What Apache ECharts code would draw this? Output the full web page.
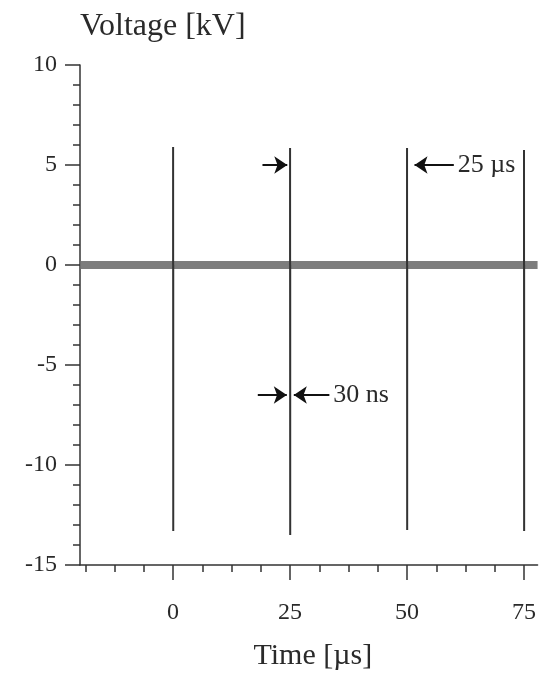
<!DOCTYPE html>
<html><head><meta charset="utf-8">
<script src="https://cdn.jsdelivr.net/npm/echarts@6/dist/echarts.min.js"></script>
<style>html,body{margin:0;padding:0;background:#fff}#c{width:539px;height:676px}</style>
</head><body><div id="c"></div>
<script>
// ---- data ----
const pulseTimes = [0, 25, 50, 75];            // µs
const pulsePeaks = [5.9, 5.85, 5.85, 5.75];    // kV
const pulseTroughs = [-13.3, -13.5, -13.25, -13.3]; // kV
const pulseWidth = 0.03;                        // 30 ns in µs
const baselineX = [-19.9, 77.9];
const baselineY = [0, 0];
const xMajorTicks = [0, 25, 50, 75];
const xMinorTicks = [-18.75, -12.5, -6.25, 6.25, 12.5, 18.75, 31.25, 37.5, 43.75, 56.25, 62.5, 68.75];
const yTicks = [-15, -10, -5, 0, 5, 10];
// annotation arrows: [fromX, toX, y, text]
const arrowFromX = [19.1, 60.0, 18.1, 33.4];
const arrowToX   = [24.4, 51.6, 24.3, 25.8];
const arrowY     = [5.0, 5.0, -6.5, -6.5];
const arrowText  = ['', '25 µs', '', '30 ns'];

const FONT = 'Liberation Serif';
const INK = '#2a2a2a';

const series = [];
series.push({
  type: 'line', data: baselineX.map((x, i) => [x, baselineY[i]]),
  symbol: 'none', lineStyle: { color: '#6f6f6f', width: 8, opacity: 0.9 }, z: 2, silent: true
});
pulseTimes.forEach((t, i) => {
  series.push({
    type: 'line',
    data: [[t, 0], [t, pulsePeaks[i]], [t + pulseWidth, pulseTroughs[i]], [t + pulseWidth, 0]],
    symbol: 'none', lineStyle: { color: '#333', width: 2 }, z: 3, silent: true
  });
});
series.push({
  type: 'line', data: [], z: 4, silent: true,
  markLine: {
    silent: true, symbol: ['none', 'arrow'], symbolSize: 13,
    lineStyle: { color: '#111', width: 2, type: 'solid' },
    label: { show: true, position: 'start', distance: 4, fontFamily: FONT, fontSize: 26, color: INK,
      formatter: p => p.data && p.data.txt ? p.data.txt : '' },
    data: arrowFromX.map((x, i) => [
      { coord: [x, arrowY[i]], txt: arrowText[i] },
      { coord: [arrowToX[i], arrowY[i]] }
    ])
  }
});

const xCommon = {
  type: 'value', min: baselineX[0], max: baselineX[1], position: 'bottom',
  splitLine: { show: false }
};
const chart = echarts.init(document.getElementById('c'));
chart.setOption({
  animation: false,
  backgroundColor: '#fff',
  grid: { left: 80, right: 0, top: 65, bottom: 109 },
  xAxis: [
    Object.assign({}, xCommon, {
      name: 'Time [µs]', nameLocation: 'middle', nameGap: 76,
      nameTextStyle: { fontFamily: FONT, fontSize: 30, color: INK, padding: [0, 0, 0, 8] },
      axisLine: { show: true, onZero: false, lineStyle: { color: '#333', width: 1.5 } },
      axisTick: { show: true, length: 15, customValues: xMajorTicks, lineStyle: { color: '#333', width: 1.5 } },
      axisLabel: { show: true, customValues: xMajorTicks, margin: 36, fontFamily: FONT, fontSize: 24, color: INK }
    }),
    Object.assign({}, xCommon, {
      axisLine: { show: false, onZero: false },
      axisTick: { show: true, length: 7, customValues: xMinorTicks, lineStyle: { color: '#333', width: 1.5 } },
      axisLabel: { show: false }
    })
  ],
  yAxis: {
    type: 'value', min: yTicks[0], max: yTicks[yTicks.length - 1], interval: 5,
    name: 'Voltage [kV]', nameLocation: 'end', nameGap: 22,
    nameTextStyle: { fontFamily: FONT, fontSize: 32, color: INK, align: 'left', padding: [0, 0, 0, 0] },
    axisLine: { show: true, onZero: false, lineStyle: { color: '#333', width: 1.5 } },
    axisTick: { show: true, length: 15, lineStyle: { color: '#333', width: 1.5 } },
    minorTick: { show: true, splitNumber: 5, length: 7, lineStyle: { color: '#333', width: 1.5 } },
    axisLabel: { margin: 23, fontFamily: FONT, fontSize: 24, color: INK },
    splitLine: { show: false }
  },
  series: series
});
</script></body></html>
